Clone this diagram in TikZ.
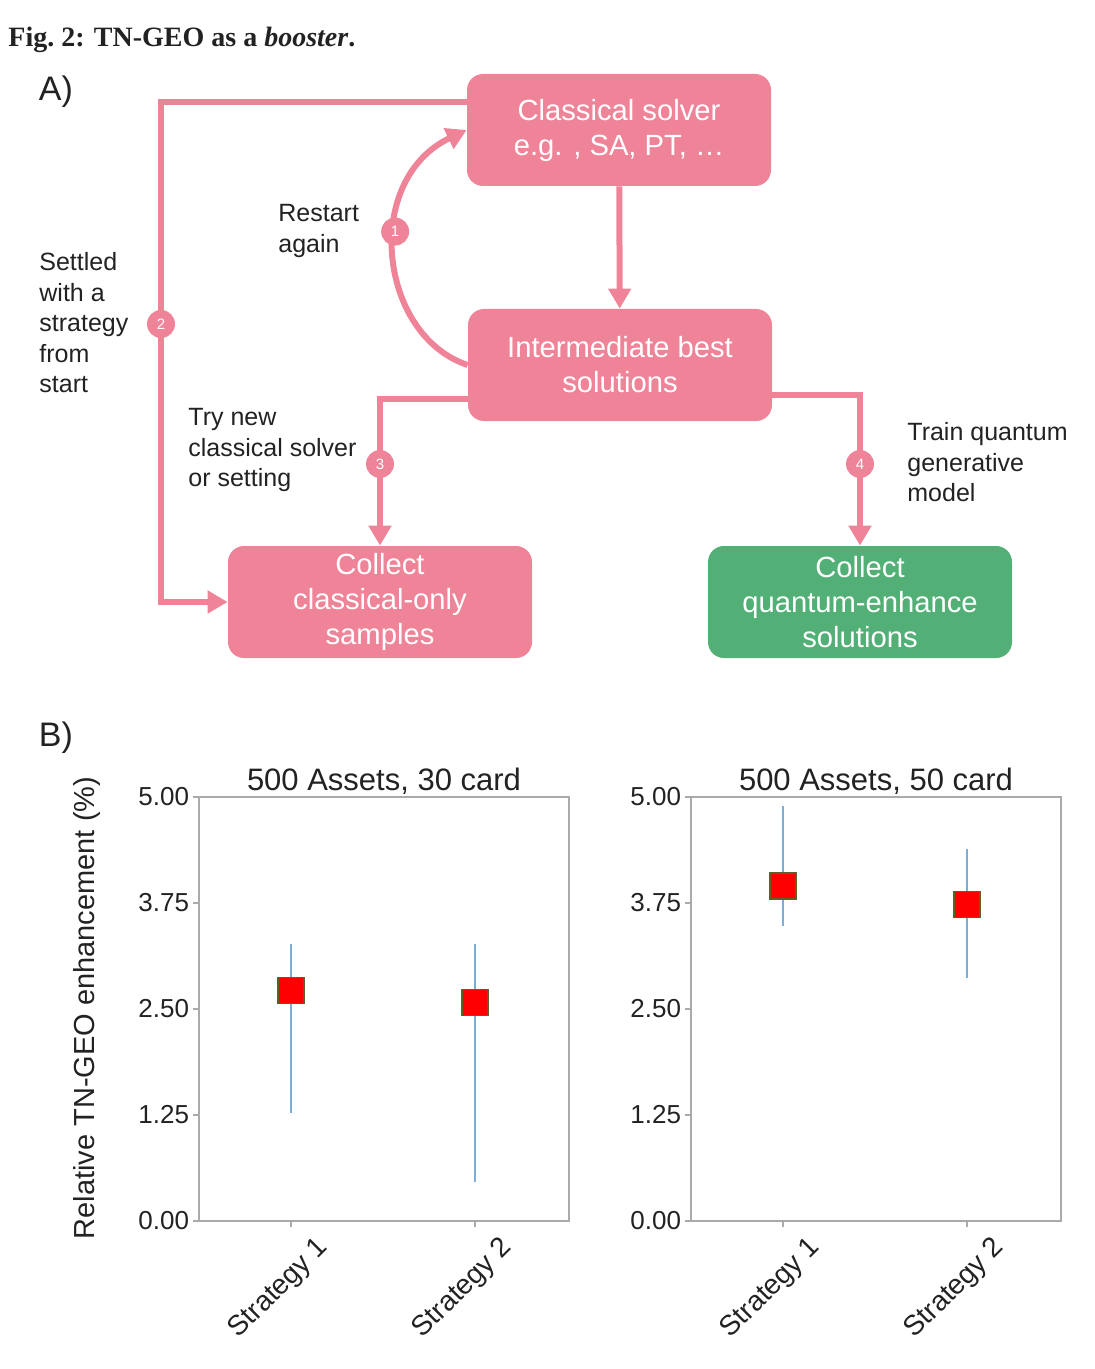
\documentclass[tikz,border=0pt]{standalone}
\usepackage{fontspec}
\setmainfont{Liberation Sans}
\newfontfamily\capfont{Liberation Serif}
\usetikzlibrary{arrows.meta}

\definecolor{flowpink}{HTML}{EF8499}
\definecolor{flowgreen}{HTML}{52B077}
\definecolor{barblue}{HTML}{7AAED6}
\definecolor{spinegray}{HTML}{AAAAAA}
\definecolor{inkgray}{HTML}{222222}

\tikzset{
  box/.style={fill=flowpink, rounded corners=8pt, minimum width=152pt, minimum height=56pt,
    inner sep=1pt, text=white, align=center, font=\fontsize{14.6}{17.5}\selectfont},
  link/.style={draw=flowpink, line width=3pt, -{Triangle[length=10pt,width=11pt]}},
  num/.style={circle, fill=flowpink, text=white, minimum size=14pt, inner sep=0pt,
    font=\fontsize{7.5}{8}\selectfont},
  lbl/.style={align=left, anchor=north west, inner sep=0pt, text=inkgray,
    font=\fontsize{12.5}{15.3}\selectfont},
  spine/.style={draw=spinegray, line width=1pt},
  errbar/.style={draw=barblue, line width=1pt},
  marker/.style={rectangle, fill=red, draw=olive!60!black, line width=0.6pt,
    minimum size=13pt, inner sep=0pt},
  plotfont/.style={text=inkgray, font=\fontsize{13}{15}\selectfont},
}

\begin{document}
\begin{tikzpicture}[x=0.5pt, y=-0.5pt]
  \useasboundingbox (0,0) rectangle (1095,1369);

  \node[anchor=base west, inner sep=0pt, text=inkgray] (caption) at (8,47)
    {\capfont\fontsize{14}{16}\selectfont\bfseries Fig.~2: TN-GEO as a \textit{booster}.};
  \node[text=inkgray, font=\fontsize{17}{20}\selectfont] (pa) at (56,92) {A)};
  \node[text=inkgray, font=\fontsize{17}{20}\selectfont] (pb) at (56,738) {B)};

  % flow chart
  \node[box] (solver) at (619,130) {Classical solver\\e.g. , SA, PT, \dots};
  \node[box] (inter) at (620,365) {Intermediate best\\solutions};
  \node[box] (classic) at (380,602) {Collect\\classical-only\\samples};
  \node[box, fill=flowgreen] (quant) at (860,602) {Collect\\quantum-enhance\\solutions};

  \draw[link] (solver) -- (inter);
  \draw[link] (inter.west) .. controls (378,335) and (362,180) .. (solver.west)
    node[num, pos=0.58] (n1) {1};
  \draw[link] ([yshift=14pt]solver.west) -| (161,450) |- (classic.west);
  \draw[link] ([yshift=-17pt]inter.west) -| (classic.north);
  \draw[link] ([yshift=-15pt]inter.east) -| (quant.north);
  \node[num] (n2) at (161,324) {2};
  \node[num] (n3) at (380,464) {3};
  \node[num] (n4) at (860,464) {4};

  \node[lbl] (restart) at (278,204) {Restart\\again};
  \node[lbl] (settled) at (39,252) {Settled\\with a\\strategy\\from\\start};
  \node[lbl] (trynew) at (188,408) {Try new\\classical solver\\or setting};
  \node[lbl] (train) at (907,422) {Train quantum\\generative\\model};

  % error bar panels
  \node[plotfont, rotate=90, font=\fontsize{14.5}{16}\selectfont] (ylab) at (87,1008)
    {Relative TN-GEO enhancement (\%)};
  \foreach \px/\card/\am/\at/\ab/\bm/\bt/\bb in
      {199/30/2.72/3.27/1.27/2.58/3.27/0.46, 691/50/3.95/4.89/3.48/3.73/4.39/2.87} {
    \begin{scope}[shift={(\px,1221)}, x=0.5pt, y=42.4pt]
      \draw[spine] (0,0) rectangle (370,5);
      \foreach \v in {0.00,1.25,2.50,3.75,5.00}
        \draw[spine] (0,\v) -- (-6,\v) node[plotfont, left, inner sep=1.5pt] {\v};
      \node[plotfont, anchor=base, yshift=3.5pt, font=\fontsize{15.5}{17}\selectfont]
        (title\card) at (185,5) {500 Assets, \card\ card};
      \foreach \s/\sx/\m/\t/\b in {1/92/\am/\at/\ab, 2/276/\bm/\bt/\bb} {
        \draw[spine] (\sx,0) -- ++(0,-3pt);
        \node[plotfont, rotate=45, font=\fontsize{14}{16}\selectfont] (xl\card\s)
          at ([xshift=-6pt, yshift=-34pt]\sx,0) {Strategy \s};
        \draw[errbar] (\sx,\b) -- (\sx,\t);
        \node[marker] (m\card\s) at (\sx,\m) {};
      }
    \end{scope}
  }
\end{tikzpicture}
\end{document}
